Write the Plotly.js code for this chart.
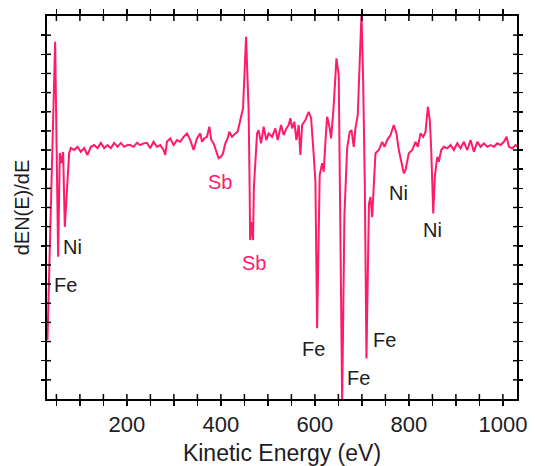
<!DOCTYPE html>
<html><head><meta charset="utf-8">
<script src="https://cdn.plot.ly/plotly-3.0.1.min.js"></script>
<style>html,body{margin:0;padding:0;background:#fff;}#chart{width:535px;height:466px;}</style>
</head><body><div id="chart"></div>
<script>
// Kinetic energy (eV)
const energy = [31, 47.3, 53.7, 57.3, 61.5, 64.3, 67.9, 77.1, 80.7, 87.7, 94.8, 102, 109, 116.1, 123.3, 130.3, 137.4, 144.6, 151.6, 158.7, 165.9, 172.9, 180, 187.2, 194.2, 201.3,
  207, 214.1, 221.3, 228.3, 235.4, 242.6, 249.6, 256.7, 263.9, 270.9, 278, 281.6, 285.2, 292.2, 299.3, 306.5, 313.5, 320.6, 327.8, 334.8, 341.9, 349.1, 356.1, 359.8, 364.6, 370.4, 375.3, 379.6, 384.5, 391.7, 395.1, 400.2, 404.5, 409.4, 414.3, 417.9, 423.7, 430.7, 435.6, 441.3, 447.1, 453.5, 459, 461.1,
  462.2, 465.8, 468.4, 470.1, 476.9, 480.3, 485.4, 491, 496.7, 501.6, 508.9, 515.9, 520.8, 528, 533.6, 539.3, 544.2, 547.8, 551.5, 556.3, 560.6, 565.5, 569.1, 572.8, 579.8, 586.8, 591.9, 597.5, 601.1, 604.7,
  610.2, 615.4, 618.8, 622.4, 626, 630.9, 634.5, 640.1, 645.8, 650.7, 654.3, 658, 662.8, 668.6, 674.1, 677.8, 682.7, 686.3, 691.2, 695.4, 699.1, 702.7, 706.1, 709.7, 715, 718.2, 721.8,
  728.9, 735.9, 743.2, 748.1, 753.8, 760.8, 767.9, 773.6, 778.5, 784.3, 789.2, 792.8, 799.8, 807.1, 814.1, 819, 824.7, 830.5, 835.4, 840.3, 844.5, 847.5, 851.8, 855.2, 860.3, 863.7, 868.8,
  874.4, 881.6, 888.6, 895.7, 902.9, 909.9, 917, 924.2, 931.2, 938.3, 945.5, 952.5, 959.6, 966.8, 973.8, 980.9, 988.1, 995.1, 1002.2, 1007.9, 1012.8, 1020.1, 1027.1, 1032];
// dN(E)/dE (arbitrary units)
const signal = [3.08, 18.66, 7.43, 12.85, 12.32, 12.90, 8.98, 12.85, 13.11, 13.0, 13.17, 12.91, 13.10, 12.74, 13.17, 13.26, 13.10, 13.37, 13.10, 13.26, 13.10, 13.37, 13.17, 13.37, 13.17, 13.26,
  13.26, 13.17, 13.38, 13.26, 13.35, 13.38, 13.09, 13.43, 13.17, 13.26, 13.0, 12.74, 13.43, 13.61, 13.26, 13.52, 13.43, 13.69, 13.87, 13.52, 13.0, 13.61, 13.87, 13.43, 13.61, 13.69, 14.22, 13.52, 13.35, 12.74, 12.57, 12.65, 12.83, 13.35, 13.61, 13.96, 13.69, 13.87, 13.96, 14.57, 15.18, 18.92, 15.09, 11.08,
  8.30, 9.24, 8.30, 11.02, 13.87, 14.04, 13.35, 14.22, 13.52, 13.87, 13.69, 14.13, 13.52, 14.31, 13.78, 14.13, 14.31, 14.66, 14.13, 14.48, 13.52, 14.31, 12.74, 14.31, 14.57, 15.0, 14.66, 12.74, 11.34, 3.69,
  11.69, 12.31, 11.87, 13.43, 14.74, 14.22, 13.61, 15.35, 17.79, 16.92, 7.87, -0.2, 9.61, 13.09, 13.96, 14.04, 13.17, 14.13, 14.83, 17.44, 20.1, 16.57, 11.34, 2.12, 10.18, 10.55, 9.50,
  12.83, 13.0, 13.43, 13.17, 13.52, 13.78, 14.31, 13.87, 13.0, 12.31, 11.78, 11.96, 12.83, 13.0, 13.43, 13.17, 13.87, 13.69, 13.96, 15.26, 14.57, 13.0, 9.69, 11.61, 12.65, 12.39, 13.0,
  13.17, 13.09, 13.26, 13.0, 13.35, 13.09, 13.43, 13.0, 13.52, 12.91, 13.43, 13.17, 13.35, 13.17, 13.26, 13.17, 13.35, 13.26, 13.43, 13.69, 13.17, 13.09, 13.26, 13.17];

const xTickValues = [50, 100, 150, 200, 250, 300, 350, 400, 450, 500, 550, 600, 650, 700, 750, 800, 850, 900, 950, 1000];
const xTickText = ['', '', '', '200', '', '', '', '400', '', '', '', '600', '', '', '', '800', '', '', '', '1000'];
const yTickValues = [1, 2, 3, 4, 5, 6, 7, 8, 9, 10, 11, 12, 13, 14, 15, 16, 17, 18, 19];

const peakLabels = ['Ni', 'Fe', 'Sb', 'Sb', 'Fe', 'Fe', 'Fe', 'Ni', 'Ni'];
const peakEnergy = [84, 70, 399, 471, 596, 692, 749, 778, 850];
const peakSignal = [7.95, 5.95, 11.34, 7.10, 2.59, 1.11, 3.08, 10.74, 8.82];

const FONT = 'Liberation Sans, Arial, sans-serif';
const LINE = '#ff1a6c';
const TEXT = '#1c1c24';
const X_RANGE = [30, 1030];
const Y_RANGE = [0, 20];
const X_TICK_LEN = 5, Y_TICK_LEN = 4, TICK_W = 1.5;

const traces = [
  { x: energy, y: signal, type: 'scatter', mode: 'lines',
    line: { color: LINE, width: 2 }, hoverinfo: 'skip', showlegend: false }
];

const annotations = peakLabels.map((t, i) => ({
  x: peakEnergy[i], y: peakSignal[i], xref: 'x', yref: 'y', text: t, showarrow: false,
  font: { family: FONT, size: 20, color: t === 'Sb' ? LINE : TEXT },
  xanchor: 'center', yanchor: 'middle'
}));

// inner halves of the crossing tick marks (outer halves are the axes' own ticks)
const shapes = [];
xTickValues.forEach(v => {
  shapes.push({ type: 'line', xref: 'x', yref: 'paper', ysizemode: 'pixel', yanchor: 0,
    x0: v, x1: v, y0: 0, y1: X_TICK_LEN, line: { color: '#000', width: TICK_W } });
  shapes.push({ type: 'line', xref: 'x', yref: 'paper', ysizemode: 'pixel', yanchor: 1,
    x0: v, x1: v, y0: -X_TICK_LEN, y1: 0, line: { color: '#000', width: TICK_W } });
});
yTickValues.forEach(v => {
  shapes.push({ type: 'line', xref: 'paper', yref: 'y', xsizemode: 'pixel', xanchor: 0,
    x0: 0, x1: Y_TICK_LEN, y0: v, y1: v, line: { color: '#000', width: TICK_W } });
  shapes.push({ type: 'line', xref: 'paper', yref: 'y', xsizemode: 'pixel', xanchor: 1,
    x0: -Y_TICK_LEN, x1: 0, y0: v, y1: v, line: { color: '#000', width: TICK_W } });
});

const layout = {
  width: 535, height: 466,
  margin: { l: 47, r: 18, t: 16, b: 67, pad: 0 },
  paper_bgcolor: '#ffffff', plot_bgcolor: '#ffffff',
  font: { family: FONT, size: 21, color: TEXT },
  xaxis: {
    range: X_RANGE, tickmode: 'array', tickvals: xTickValues, ticktext: xTickText,
    ticks: 'outside', ticklen: X_TICK_LEN, tickwidth: TICK_W, tickcolor: '#000',
    showline: true, linecolor: '#000', linewidth: 2, mirror: 'ticks',
    showgrid: false, zeroline: false,
    tickfont: { family: FONT, size: 22, color: TEXT },
    title: { text: 'Kinetic Energy (eV)', font: { family: FONT, size: 23, color: TEXT }, standoff: 11 }
  },
  yaxis: {
    range: Y_RANGE, tickmode: 'array', tickvals: yTickValues, showticklabels: false,
    ticks: 'outside', ticklen: Y_TICK_LEN, tickwidth: TICK_W, tickcolor: '#000',
    showline: true, linecolor: '#000', linewidth: 2, mirror: 'ticks',
    showgrid: false, zeroline: false,
    title: { text: 'dEN(E)/dE', font: { family: FONT, size: 20, color: TEXT }, standoff: 6 }
  },
  annotations: annotations,
  shapes: shapes,
  showlegend: false
};

Plotly.newPlot('chart', traces, layout, { staticPlot: true, displayModeBar: false });
</script></body></html>
